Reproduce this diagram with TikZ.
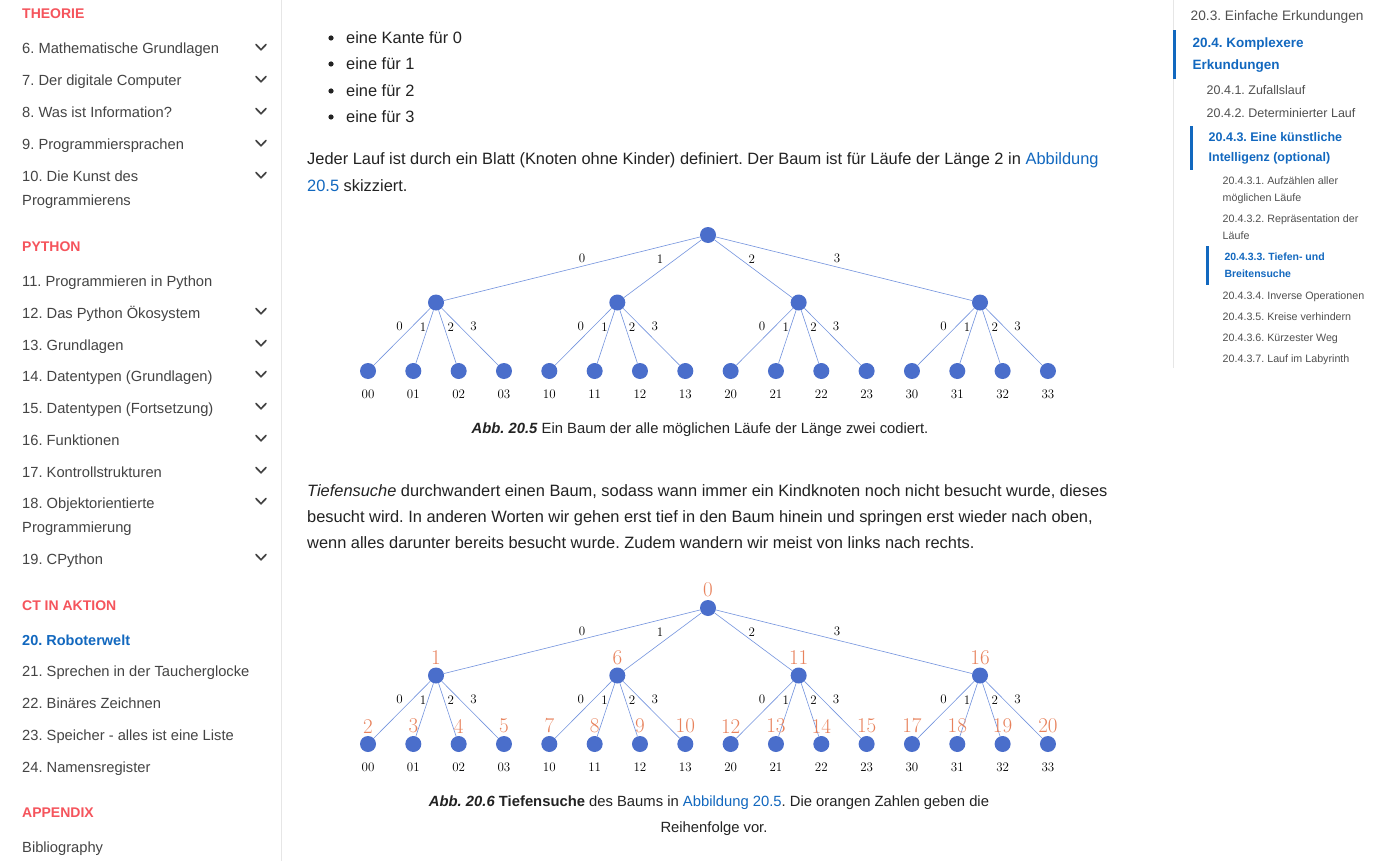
\documentclass[tikz,border=0pt]{standalone}
\usepackage{fontspec}
\newfontfamily\ui{Liberation Sans}
\definecolor{sbgray}{HTML}{444444}
\definecolor{rsgray}{HTML}{505050}
\definecolor{hdred}{HTML}{F5545C}
\definecolor{linkblue}{HTML}{1268BF}
\definecolor{bodyc}{HTML}{222222}
\definecolor{divc}{HTML}{E6E6E6}
\definecolor{nodeblue}{HTML}{4A6ECB}
\definecolor{edgeblue}{HTML}{7393DE}
\definecolor{orangec}{HTML}{E8825C}
\frenchspacing
\newcommand\mytree[2]{%
 \node[dot] (#1r) at (708,#2) {};
 \foreach \i/\dx in {0/10,1/-2.5,2/-1.5,3/-7} {%
  \node[dot] (#1\i) at ({436+181.33*\i},{#2+67.5}) {};
  \draw[edgeline] (#1r) -- node[el,xshift=\dx pt,yshift=10pt] (#1e\i) {\i} (#1\i);
  \foreach \j/\dy in {0/-2.5,1/-1.5,2/3.5,3/3.5} {%
   \node[dot] (#1\i\j) at ({368+45.33*(4*\i+\j)},{#2+136}) {};
   \draw[edgeline] (#1\i) -- node[el,xshift=\dy pt,yshift=10pt] (#1e\i\j) {\j} (#1\i\j);
   \node[el] (#1t\i\j) at ({368+45.33*(4*\i+\j)},{#2+159}) {\i\j};
  }%
 }%
}
\begin{document}
\frenchspacing
\begin{tikzpicture}[x=1pt,y=-1pt,
 sb/.style={anchor=base west,inner sep=0pt,font=\ui\fontsize{14.7}{17}\selectfont,text=sbgray},
 hd/.style={anchor=base west,inner sep=0pt,font=\ui\bfseries\fontsize{14}{17}\selectfont,text=hdred},
 body/.style={anchor=base west,inner sep=0pt,font=\ui\fontsize{16.4}{20}\selectfont,text=bodyc},
 captxt/.style={anchor=base,inner sep=0pt,font=\ui\fontsize{14.8}{17}\selectfont,text=bodyc},
 rsa/.style={anchor=base west,inner sep=0pt,font=\ui\fontsize{13.7}{16}\selectfont,text=rsgray},
 rsab/.style={anchor=base west,inner sep=0pt,font=\ui\bfseries\fontsize{13.5}{16}\selectfont,text=linkblue},
 rsb/.style={anchor=base west,inner sep=0pt,font=\ui\fontsize{12.5}{15}\selectfont,text=rsgray},
 rsbb/.style={anchor=base west,inner sep=0pt,font=\ui\bfseries\fontsize{12.5}{15}\selectfont,text=linkblue},
 rsc/.style={anchor=base west,inner sep=0pt,font=\ui\fontsize{10.7}{13}\selectfont,text=rsgray},
 rscb/.style={anchor=base west,inner sep=0pt,font=\ui\bfseries\fontsize{10.5}{13}\selectfont,text=linkblue},
 chev/.style={draw=sbgray,line width=1.7pt,line cap=round,line join=round},
 dot/.style={circle,fill=nodeblue,minimum size=16pt,inner sep=0pt},
 edgeline/.style={draw=edgeblue,line width=0.6pt},
 el/.style={font=\fontsize{13}{13}\selectfont,inner sep=0pt,text=black},
 ol/.style={font=\fontsize{21}{21}\selectfont,inner sep=0pt,text=orangec},
]
\useasboundingbox (0,0) rectangle (1386,861);
\fill[white] (0,0) rectangle (1386,861);
% dividers
\draw[divc,line width=1pt] (281.5,0) -- (281.5,861);
\draw[divc,line width=1pt] (1173.5,0) -- (1173.5,368);
% left sidebar
\node[hd] (hTheorie) at (22,19) {THEORIE};
\node[hd] (hPython) at (22,251) {PYTHON};
\node[hd] (hCT) at (22,610) {CT IN AKTION};
\node[hd] (hApp) at (22,817) {APPENDIX};
\foreach \y/\t in {54/{6. Mathematische Grundlagen},86/{7. Der digitale Computer},118/{8. Was ist Information?},150/{9. Programmiersprachen},182/{10. Die Kunst des},205/{Programmierens},286/{11. Programmieren in Python},318/{12. Das Python Ökosystem},350/{13. Grundlagen},381/{14. Datentypen (Grundlagen)},413/{15. Datentypen (Fortsetzung)},445/{16. Funktionen},477/{17. Kontrollstrukturen},508/{18. Objektorientierte},532/{Programmierung},564/{19. CPython},676/{21. Sprechen in der Taucherglocke},708/{22. Binäres Zeichnen},740/{23. Speicher - alles ist eine Liste},772/{24. Namensregister},852/{Bibliography}}
  \node[sb] (sb\y) at (22,\y) {\t};
\node[sb,text=linkblue,font=\ui\bfseries\fontsize{14.5}{17}\selectfont] (sb645) at (22,645) {20. Roboterwelt};
\foreach \c in {49,81,113,145,177,313,345,376,408,440,472,503,559}
  \draw[chev] (256,\c-4.5) -- (261,\c+0.8) -- (266,\c-4.5);
% right sidebar
\fill[linkblue] (1173,30) rectangle (1176,79);
\fill[linkblue] (1190,126) rectangle (1192.5,170);
\fill[linkblue] (1206,246) rectangle (1208.5,285);
\node[rsa] (r1) at (1190.5,20.5) {20.3. Einfache Erkundungen};
\node[rsab] (r2) at (1192.5,47.5) {20.4. Komplexere};
\node[rsab] (r3) at (1192.5,69.5) {Erkundungen};
\node[rsb] (r4) at (1206.5,94.5) {20.4.1. Zufallslauf};
\node[rsb] (r5) at (1206.5,117.5) {20.4.2. Determinierter Lauf};
\node[rsbb] (r6) at (1208.5,141.5) {20.4.3. Eine künstliche};
\node[rsbb] (r7) at (1208.5,161.5) {Intelligenz (optional)};
\node[rsc] (r8) at (1222.5,184.5) {20.4.3.1. Aufzählen aller};
\node[rsc] (r9) at (1222.5,201.5) {möglichen Läufe};
\node[rsc] (r10) at (1222.5,222.5) {20.4.3.2. Repräsentation der};
\node[rsc] (r11) at (1222.5,239) {Läufe};
\node[rscb] (r12) at (1224.3,260.5) {20.4.3.3. Tiefen- und};
\node[rscb] (r13) at (1224.3,277.5) {Breitensuche};
\node[rsc] (r14) at (1222.5,299) {20.4.3.4. Inverse Operationen};
\node[rsc] (r15) at (1222.5,320) {20.4.3.5. Kreise verhindern};
\node[rsc] (r16) at (1222.5,341.5) {20.4.3.6. Kürzester Weg};
\node[rsc] (r17) at (1222.5,362.5) {20.4.3.7. Lauf im Labyrinth};
% body text
\foreach \y/\t in {38/{eine Kante für 0},64/{eine für 1},91/{eine für 2},117/{eine für 3}} {
  \fill[bodyc] (331,\y) circle (2.6);
  \node[body] (b\y) at (346,\y+5.5) {\t};
}
\node[body] (p1) at (307,164.5) {Jeder Lauf ist durch ein Blatt (Knoten ohne Kinder) definiert. Der Baum ist für Läufe der Länge 2 in \textcolor{linkblue}{Abbildung}};
\node[body] (p2) at (307,191.5) {\textcolor{linkblue}{20.5} skizziert.};
\node[body] (q1) at (307,496.5) {\textit{Tiefensuche} durchwandert einen Baum, sodass wann immer ein Kindknoten noch nicht besucht wurde, dieses};
\node[body] (q2) at (307,522.5) {besucht wird. In anderen Worten wir gehen erst tief in den Baum hinein und springen erst wieder nach oben,};
\node[body] (q3) at (307,548.5) {wenn alles darunter bereits besucht wurde. Zudem wandern wir meist von links nach rechts.};
% captions
\node[captxt] (c1) at (700,433) {\textbf{\textit{Abb. 20.5}} Ein Baum der alle möglichen Läufe der Länge zwei codiert.};
\node[captxt] (c2) at (709,806) {\textbf{\textit{Abb. 20.6}} \textbf{Tiefensuche} des Baums in \textcolor{linkblue}{Abbildung 20.5}. Die orangen Zahlen geben die};
\node[captxt] (c3) at (714,832) {Reihenfolge vor.};
% trees
\mytree{A}{235}
\mytree{B}{608}
\node[ol,anchor=south] (Bo) at ([yshift=2.5pt]Br.north) {0};
\foreach \i in {0,...,3} {
  \pgfmathtruncatemacro\n{1+5*\i}
  \node[ol,anchor=south] (Bo\i) at ([yshift=2.5pt]B\i.north) {\n};
  \foreach \j in {0,...,3} {
    \pgfmathtruncatemacro\m{2+5*\i+\j}
    \node[ol,anchor=south] (Bo\i\j) at ([yshift=2.5pt]B\i\j.north) {\m};
  }
}
\end{tikzpicture}
\end{document}
